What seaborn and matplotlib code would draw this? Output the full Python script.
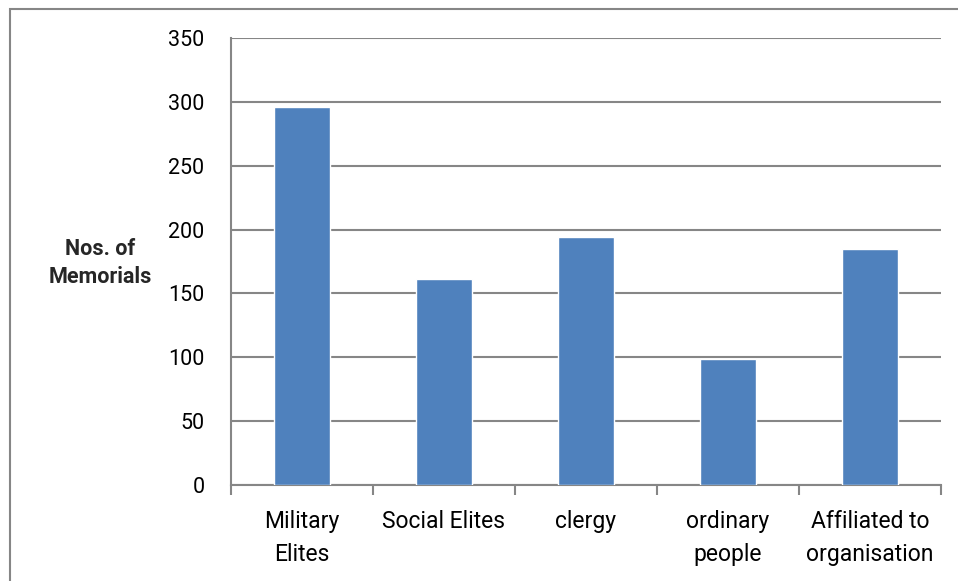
import matplotlib
matplotlib.use("Agg")
import matplotlib.pyplot as plt
from matplotlib.patches import Rectangle
from matplotlib.ticker import FixedLocator, MultipleLocator
import seaborn as sns
import pandas as pd

categories = ["Military\nElites", "Social Elites", "clergy", "ordinary\npeople", "Affiliated to\norganisation"]
memorials = [296, 161, 194, 99, 185]
y_label = "Nos. of\nMemorials"

sns.set_theme(style="white")
plt.rcParams["font.family"] = ["Roboto", "DejaVu Sans"]

grid_col = "#868686"
bar_col = "#4F81BD"

fig = plt.figure(figsize=(9.58, 5.81), dpi=100)
ax = fig.add_axes([231 / 958, 1 - 485 / 581, 710 / 958, 447 / 581])

df = pd.DataFrame({"category": categories, "memorials": memorials})
sns.barplot(data=df, x="category", y="memorials", color=bar_col, saturation=1,
            width=0.4, ax=ax, zorder=3)

ax.set_xlim(-0.5, len(categories) - 0.5)
ax.set_ylim(0, 350)
ax.yaxis.set_major_locator(MultipleLocator(50))
ax.yaxis.grid(True, color=grid_col, linewidth=1.5, zorder=0)
ax.set_axisbelow(True)

for side in ["top", "right"]:
    ax.spines[side].set_visible(False)
for side in ["left", "bottom"]:
    ax.spines[side].set_color(grid_col)
    ax.spines[side].set_linewidth(1.5)

ax.tick_params(axis="y", which="major", length=6, width=1.5, color=grid_col,
               labelsize=15.5, pad=13, labelcolor="black")
ax.tick_params(axis="x", which="major", length=0, labelsize=16.5, pad=18, labelcolor="black")
ax.xaxis.set_minor_locator(FixedLocator([i + 0.5 for i in range(-1, len(categories))]))
ax.tick_params(axis="x", which="minor", bottom=True, length=7, width=1.5, color=grid_col)
for lab in ax.get_xticklabels():
    lab.set_linespacing(1.55)
    lab.set_verticalalignment("top")

ax.set_xlabel("")
ax.set_ylabel("")
fig.text(100 / 958, 1 - 263 / 581, y_label, ha="center", va="center",
         fontsize=15.5, fontweight="bold", linespacing=1.3)

# chart frame
fig.patches.append(Rectangle((9.5 / 958, -0.05), 1.1, 1 - 8.5 / 581 + 0.05,
                             transform=fig.transFigure, fill=False,
                             edgecolor=grid_col, linewidth=1.5))

fig.savefig("out.png", dpi=100)
